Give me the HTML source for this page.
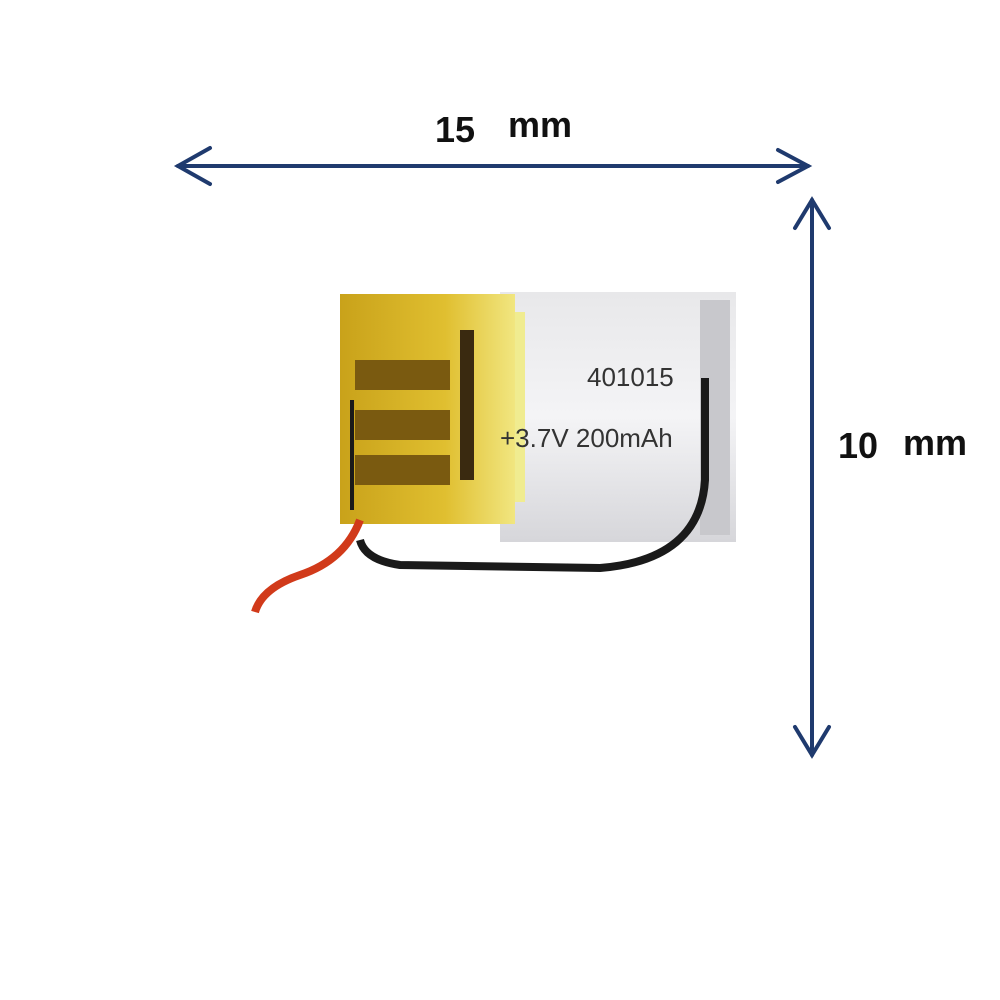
<!DOCTYPE html>
<html><head><style>
html,body{margin:0;padding:0;background:#fff;}
svg{display:block;}
</style></head><body>
<svg width="1000" height="1000" viewBox="0 0 1000 1000" xmlns="http://www.w3.org/2000/svg">
<defs>
<linearGradient id="silver" x1="0" y1="0" x2="0" y2="1">
<stop offset="0" stop-color="#e8e8ea"/><stop offset="0.5" stop-color="#f4f4f6"/><stop offset="1" stop-color="#d6d6da"/>
</linearGradient>
<linearGradient id="gold" x1="0" y1="0" x2="1" y2="0">
<stop offset="0" stop-color="#c9a21a"/><stop offset="0.6" stop-color="#e0bf30"/><stop offset="1" stop-color="#f1e680"/>
</linearGradient>
</defs>
<!-- top arrow -->
<g stroke="#1f3a6e" stroke-width="4" fill="none" stroke-linecap="round">
<line x1="178" y1="166" x2="808" y2="166"/>
<polyline points="210,148 178,166 210,184"/>
<polyline points="778,150 808,166 778,182"/>
<line x1="812" y1="200" x2="812" y2="755"/>
<polyline points="795,228 812,200 829,228"/>
<polyline points="795,727 812,755 829,727"/>
</g>
<text x="435" y="142" font-family="Liberation Sans, sans-serif" font-weight="bold" font-size="36" fill="#111">15</text>
<text x="508" y="137" font-family="Liberation Sans, sans-serif" font-weight="bold" font-size="36" fill="#111">mm</text>
<text x="838" y="458" font-family="Liberation Sans, sans-serif" font-weight="bold" font-size="36" fill="#111">10</text>
<text x="903" y="455" font-family="Liberation Sans, sans-serif" font-weight="bold" font-size="36" fill="#111">mm</text>
<!-- battery body -->
<rect x="500" y="292" width="236" height="250" fill="url(#silver)"/>
<rect x="700" y="300" width="30" height="235" fill="#c8c8cc"/>
<rect x="470" y="312" width="55" height="190" fill="#f0ec90"/>
<rect x="340" y="294" width="175" height="230" fill="url(#gold)"/>
<rect x="460" y="330" width="14" height="150" fill="#3a2a10"/>
<g fill="#7a5a10">
<rect x="355" y="360" width="95" height="30"/>
<rect x="355" y="410" width="95" height="30"/>
<rect x="355" y="455" width="95" height="30"/>
</g>
<text x="587" y="386" font-family="Liberation Sans, sans-serif" font-size="26" fill="#333">401015</text>
<text x="500" y="447" font-family="Liberation Sans, sans-serif" font-size="26" fill="#333">+3.7V 200mAh</text>
<!-- wires -->
<path d="M705,378 L705,480 Q700,560 600,568 L400,565 Q365,560 360,540" stroke="#1a1a1a" stroke-width="8" fill="none"/>
<path d="M360,520 Q345,560 300,575 Q262,588 255,612" stroke="#d13a1a" stroke-width="8" fill="none"/>
<path d="M352,400 L352,510" stroke="#1a1a1a" stroke-width="4" fill="none"/>
</svg>
</body></html>
